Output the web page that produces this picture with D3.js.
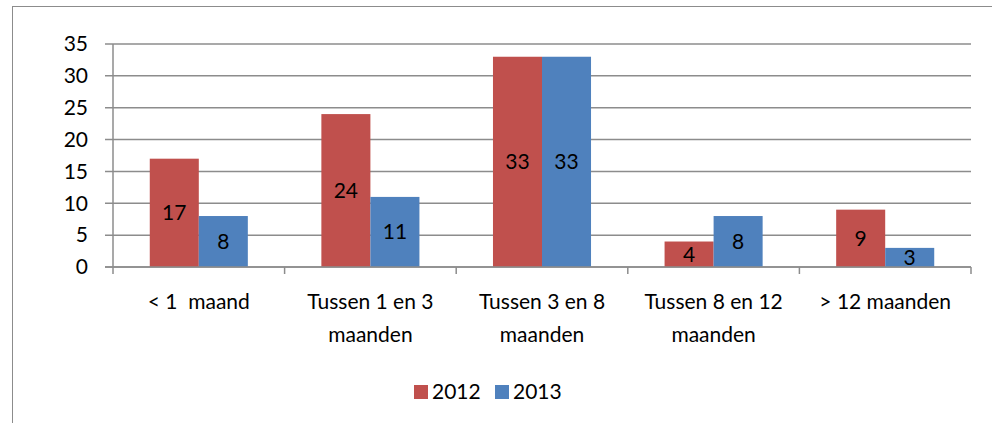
<!DOCTYPE html>
<html>
<head>
<meta charset="utf-8">
<script src="https://cdn.jsdelivr.net/npm/d3@7"></script>
<style>
  body { margin: 0; background: #fff; }
  text { font-family: Lato, "Open Sans", sans-serif; fill: #000; white-space: pre; }
</style>
</head>
<body>
<div id="chart"></div>
<script>
const categories = [["< 1  maand"], ["Tussen 1 en 3", "maanden"], ["Tussen 3 en 8", "maanden"], ["Tussen 8 en 12", "maanden"], ["> 12 maanden"]];
const seriesNames = ["2012", "2013"];
const values2012 = [17, 24, 33, 4, 9];
const values2013 = [8, 11, 33, 8, 3];
const yTicks = [0, 5, 10, 15, 20, 25, 30, 35];
const colors = ["#C0504D", "#4F81BD"];

const width = 992, height = 423;
const margin = { left: 113, right: 21, top: 44, bottom: 156 };
const innerW = width - margin.left - margin.right;
const innerH = height - margin.top - margin.bottom;
const fontSize = 21;

const svg = d3.select("#chart").append("svg")
  .attr("width", width).attr("height", height);

// chart frame
svg.append("rect")
  .attr("x", 12.5).attr("y", 6.5)
  .attr("width", 990).attr("height", 430)
  .attr("fill", "none").attr("stroke", "#8c8c8c").attr("stroke-width", 1);

const g = svg.append("g").attr("transform", `translate(${margin.left},${margin.top})`);

const x = d3.scaleBand().domain(d3.range(categories.length)).range([0, innerW]);
const x1 = d3.scaleBand().domain(seriesNames).range([0, x.bandwidth()]).paddingOuter(0.75);
const y = d3.scaleLinear().domain([0, 35]).range([innerH, 0]);

// gridlines
g.selectAll(".grid").data(yTicks).join("line")
  .attr("x1", -8).attr("x2", innerW)
  .attr("y1", d => y(d)).attr("y2", d => y(d))
  .attr("stroke", "#8c8c8c").attr("stroke-width", 1.5);

// y axis line
g.append("line").attr("x1", 0).attr("x2", 0).attr("y1", 0).attr("y2", innerH)
  .attr("stroke", "#8c8c8c").attr("stroke-width", 1.5);

g.selectAll(".ylab").data(yTicks).join("text")
  .attr("x", -25).attr("y", d => y(d)).attr("dy", "0.35em")
  .attr("text-anchor", "end").attr("font-size", fontSize)
  .text(d => d);

// category ticks
g.selectAll(".xtick").data(d3.range(categories.length + 1)).join("line")
  .attr("x1", d => d * x.step()).attr("x2", d => d * x.step())
  .attr("y1", innerH).attr("y2", innerH + 7)
  .attr("stroke", "#8c8c8c").attr("stroke-width", 1.5);

const data = categories.map((c, i) => ({ i, vals: [values2012[i], values2013[i]] }));

const cat = g.selectAll(".cat").data(data).join("g")
  .attr("transform", d => `translate(${x(d.i)},0)`);

cat.selectAll("rect").data(d => d.vals.map((v, k) => ({ v, k }))).join("rect")
  .attr("x", d => x1(seriesNames[d.k]))
  .attr("width", x1.bandwidth())
  .attr("y", d => y(d.v))
  .attr("height", d => innerH - y(d.v))
  .attr("fill", d => colors[d.k]);

cat.selectAll(".val").data(d => d.vals.map((v, k) => ({ v, k }))).join("text")
  .attr("x", d => x1(seriesNames[d.k]) + x1.bandwidth() / 2)
  .attr("y", d => (y(d.v) + innerH) / 2).attr("dy", "0.35em")
  .attr("text-anchor", "middle").attr("font-size", fontSize)
  .text(d => d.v);

// x axis line
g.append("line").attr("x1", -8).attr("x2", innerW).attr("y1", innerH).attr("y2", innerH)
  .attr("stroke", "#8c8c8c").attr("stroke-width", 1.5);

// category labels
cat.each(function(d) {
  const t = d3.select(this).append("text")
    .attr("text-anchor", "middle").attr("font-size", fontSize);
  categories[d.i].forEach((line, li) => {
    t.append("tspan").attr("x", x.bandwidth() / 2).attr("y", innerH + 42 + li * 33).text(line);
  });
});

// legend
const legend = svg.append("g").attr("transform", "translate(414,392)");
const items = [{ name: "2012", x: 0 }, { name: "2013", x: 81 }];
items.forEach((it, k) => {
  legend.append("rect").attr("x", it.x).attr("y", -7).attr("width", 14).attr("height", 14).attr("fill", colors[k]);
  legend.append("text").attr("x", it.x + 18).attr("y", 0).attr("dy", "0.35em").attr("font-size", fontSize).text(it.name);
});
</script>
</body>
</html>
